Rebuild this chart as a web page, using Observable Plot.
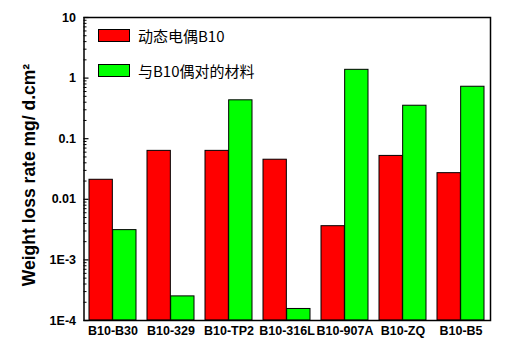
<!DOCTYPE html>
<html>
<head>
<meta charset="utf-8">
<script src="https://cdn.jsdelivr.net/npm/d3@7"></script>
<script src="https://cdn.jsdelivr.net/npm/@observablehq/plot@0.6"></script>
<style>
  html, body { margin: 0; padding: 0; background: #fff; }
  #wrap { position: relative; width: 510px; height: 360px; }
  .legend { position: absolute; left: 98px; font-family: "Noto Sans CJK SC", sans-serif; font-size: 15px; color: #000; }
  .legend .row { position: absolute; left: 0; white-space: nowrap; display: flex; align-items: center; }
  .legend .sw { width: 30px; height: 11px; border: 1px solid #000; margin-right: 8px; }
</style>
</head>
<body>
<div id="wrap"></div>
<script>
const categories = ["B10-B30", "B10-329", "B10-TP2", "B10-316L", "B10-907A", "B10-ZQ", "B10-B5"];
const seriesNames = ["动态电偶B10", "与B10偶对的材料"];
const seriesColors = ["#ff0000", "#00ff00"];
const galvanicB10 = [0.021, 0.063, 0.063, 0.045, 0.0036, 0.052, 0.027];
const coupledMaterial = [0.0031, 0.00025, 0.43, 0.000155, 1.37, 0.35, 0.72];
const yTicks = [10, 1, 0.1, 0.01, 0.001, 0.0001];
const yTickLabels = ["10", "1", "0.1", "0.01", "1E-3", "1E-4"];
const yLabel = "Weight loss rate mg/ d.cm²";

const W = 510, H = 360, ML = 83.5, MR = 20, MT = 17, MB = 40;
const padInner = 0.19, padOuter = 0.074;
const step = (W - ML - MR) / (categories.length - padInner + 2 * padOuter);
const bw = step * (1 - padInner);

const redData = categories.map((c, i) => ({cat: c, v: galvanicB10[i]}));
const greenData = categories.map((c, i) => ({cat: c, v: coupledMaterial[i]}));

const minor = [];
for (let e = -4; e < 1; e++) for (let k = 2; k <= 9; k++) minor.push(k * Math.pow(10, e));

const labelMap = new Map(yTicks.map((t, i) => [t, yTickLabels[i]]));

const chart = Plot.plot({
  width: W, height: H,
  marginLeft: ML, marginRight: MR, marginTop: MT, marginBottom: MB,
  style: {fontFamily: "'Liberation Sans', Arial, sans-serif", fontSize: "12.5px", fontWeight: "bold", color: "#000", background: "#fff"},
  x: {domain: categories, paddingInner: padInner, paddingOuter: padOuter, label: null},
  y: {type: "log", domain: [1e-4, 10], label: null},
  marks: [
    Plot.barY(redData, {x: "cat", y1: 1e-4, y2: "v", fill: seriesColors[0], stroke: "#000", strokeWidth: 1, insetRight: bw / 2}),
    Plot.barY(greenData, {x: "cat", y1: 1e-4, y2: "v", fill: seriesColors[1], stroke: "#000", strokeWidth: 1, insetLeft: bw / 2}),
    Plot.axisX({tickSize: 0, tickPadding: 6, fontSize: "12.5px"}),
    Plot.axisY({ticks: yTicks, tickSize: 0, tickPadding: 8, tickFormat: d => labelMap.get(d) ?? "", label: null}),
    Plot.axisY({ticks: yTicks, tickSize: 5, dx: 5, text: null, label: null, strokeWidth: 1.2}),
    Plot.axisY({ticks: minor, tickSize: 3, dx: 3, text: null, label: null}),
    Plot.frame({stroke: "#000", strokeWidth: 1.5})
  ]
});

const wrap = document.getElementById("wrap");
wrap.appendChild(chart);

// y axis title
const svg = d3.select(chart);
svg.append("text")
  .attr("transform", `translate(35,175) rotate(-90)`)
  .attr("text-anchor", "middle")
  .style("font-family", "'Liberation Sans', Arial, sans-serif")
  .style("font-weight", "bold")
  .style("font-size", "17.5px")
  .attr("fill", "#000")
  .text(yLabel);

// legend
const leg = document.createElement("div");
leg.className = "legend";
leg.style.top = "0px";
seriesNames.forEach((name, i) => {
  const row = document.createElement("div");
  row.className = "row";
  row.style.top = (i === 0 ? 25 : 60) + "px";
  const sw = document.createElement("div");
  sw.className = "sw";
  sw.style.background = seriesColors[i];
  const t = document.createElement("span");
  t.textContent = name;
  row.appendChild(sw);
  row.appendChild(t);
  leg.appendChild(row);
});
wrap.appendChild(leg);
</script>
</body>
</html>
